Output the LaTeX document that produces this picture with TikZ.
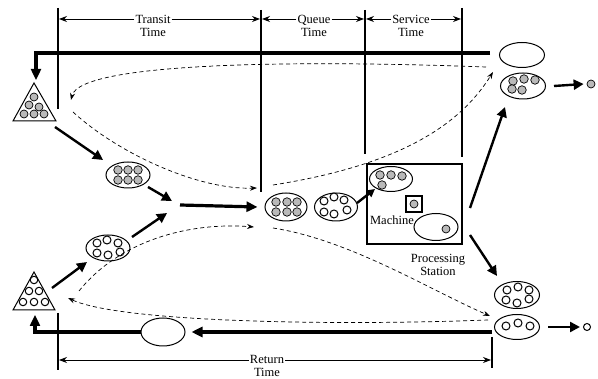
\documentclass[tikz,border=0pt]{standalone}
\usepackage{fontspec}
\setmainfont{Liberation Serif}
\usetikzlibrary{arrows.meta,shapes.geometric,calc}
\begin{document}
\begin{tikzpicture}[x=1pt,y=-1pt,
  lbl/.style={font=\fontsize{12.5}{13}\selectfont, align=center, inner sep=1pt},
  ell/.style={ellipse, draw, line width=1pt, minimum width=44pt, minimum height=26pt, inner sep=0pt},
  gb/.style={circle, draw, line width=0.7pt, fill=gray!55, inner sep=0pt, minimum size=8.5pt},
  wb/.style={circle, draw, line width=1pt, fill=white, inner sep=0pt, minimum size=8pt},
  tri/.style={draw, line width=1pt, fill=white},
  vline/.style={line width=1.4pt},
  heavy/.style={line width=3.2pt},
  thickarr/.style={line width=2.4pt, -{Triangle[length=10pt,width=10pt]}},
  dim/.style={line width=0.8pt, -{Stealth[length=8pt,width=6pt]}},
  dsh/.style={line width=0.7pt, dash pattern=on 4pt off 3pt, -{Stealth[length=7pt,width=5pt]}}
]
\useasboundingbox (0,0) rectangle (598,379);

% ---------- vertical time lines ----------
\draw[vline] (58,8) -- (58,109);
\draw[vline] (261,10) -- (261,192);
\draw[vline] (365,10) -- (365,154);
\draw[vline] (462,8) -- (462,157);
\draw[vline] (58,313) -- (58,370);
\draw[vline] (492,337) -- (492,368);

% ---------- top dimension labels ----------
\node[lbl] (transit) at (153,26) {Transit\\Time};
\node[lbl] (queue) at (314,26) {Queue\\Time};
\node[lbl] (service) at (411,26) {Service\\Time};
\node[lbl] (ret) at (267,366) {Return\\Time};
\coordinate (d1) at (59,19);
\coordinate (d2) at (260,19);
\coordinate (d3) at (262,19);
\coordinate (d4) at (364,19);
\coordinate (d5) at (366,19);
\coordinate (d6) at (461,19);
\coordinate (d7) at (59,360);
\coordinate (d8) at (491,360);
\draw[dim] (transit.west|-d1) -- (d1);
\draw[dim] (transit.east|-d2) -- (d2);
\draw[dim] (queue.west|-d3) -- (d3);
\draw[dim] (queue.east|-d4) -- (d4);
\draw[dim] (service.west|-d5) -- (d5);
\draw[dim] (service.east|-d6) -- (d6);
\draw[dim] (ret.west|-d7) -- (d7);
\draw[dim] (ret.east|-d8) -- (d8);

% ---------- triangles ----------
\draw[tri] (34,83) -- (13,121) -- (56,121) -- cycle;
\foreach \p in {(34,97),(29,105),(39,107),(24,114),(34,114),(44,114)}
  \node[gb, minimum size=8pt] at \p {};
\draw[tri] (34,272) -- (13,310) -- (55,310) -- cycle;
\foreach \p in {(34,280),(29,291),(39,291),(23,302),(34,302),(45,302)}
  \node[wb, minimum size=7.5pt] at \p {};

% ---------- heavy loops ----------
\coordinate (topR) at (490,53);
\coordinate (topL) at (36,53);
\coordinate (triAtop) at (36,80);
\coordinate (triAstem) at (36,70);
\draw[heavy] (topR) -- (topL) -- (triAstem);
\draw[line width=2.4pt, -{Triangle[length=11pt,width=10pt]}] (36,68) -- (triAtop);

\node[ell, minimum height=28pt] (empB) at (163,332) {};
\coordinate (botR) at (492,332);
\coordinate (botL) at (35,332);
\coordinate (triBbot) at (35,315);
\coordinate (triBstem) at (35,325);
\draw[heavy, -{Triangle[length=11pt,width=10pt]}] (botR) -- ([xshift=6pt]empB.east);
\draw[heavy] (empB.west) -- (botL) -- (triBstem);
\draw[line width=2.4pt, -{Triangle[length=11pt,width=10pt]}] (35,327) -- (triBbot);

% ---------- left ellipses ----------
\node[ell] (gL) at (128,175) {};
\foreach \p in {(118,170),(128,170),(138,170),(118,180),(128,180),(138,180)}
  \node[gb] at \p {};
\node[ell] (wL) at (108,248) {};
\foreach \p in {(97,243),(107,240),(118,243),(97,253),(108,255),(120,252)}
  \node[wb] at \p {};

% ---------- queue ----------
\node[ell, minimum height=28pt, minimum width=42pt] (gQ) at (286,207) {};
\foreach \p in {(276,202),(287,202),(297,202),(276,212),(287,212),(297,212)}
  \node[gb] at \p {};
\node[ell, minimum height=28pt, minimum width=43pt] (wQ) at (336,207) {};
\foreach \p in {(324,201),(334,197),(344,200),(324,212),(334,214),(347,210)}
  \node[wb] at \p {};

% ---------- processing station ----------
\node[draw, line width=2.2pt, minimum width=95pt, minimum height=80pt, inner sep=0pt] (ps) at (414.5,204) {};
\node[ell, minimum width=43pt, minimum height=25pt] (psIn) at (391,179) {};
\foreach \p in {(380,175),(391,175),(402,176),(382,185)}
  \node[gb] at \p {};
\node[draw, line width=1.8pt, minimum size=16pt, inner sep=0pt] (mach) at (414,204) {};
\node[gb, minimum size=8pt] at (414,204) {};
\node[ell, minimum width=44pt, minimum height=27pt] (psOut) at (436,227) {};
\node[gb, minimum size=8pt] at (446,229) {};
\node[lbl, fill=white, inner sep=0pt] (machlbl) at (392,220) {Machine};
\node[lbl] (pslbl) at (438,265) {Processing\\Station};

% ---------- right ellipses ----------
\node[ell, minimum width=45pt, minimum height=25pt] (empT) at (522,55) {};
\node[ell, minimum width=45pt, minimum height=26pt] (gOut) at (523,86) {};
\foreach \p in {(513,81),(524,79),(535,80),(512,89),(522,90)}
  \node[gb] at \p {};
\node[ell, minimum width=45pt, minimum height=27pt] (wAll) at (517,295) {};
\foreach \p in {(507,290),(518,287),(529,290),(506,300),(517,303),(529,299)}
  \node[wb] at \p {};
\node[ell, minimum width=45pt, minimum height=25pt] (wOut) at (517,327) {};
\foreach \p in {(506,326),(518,323),(530,326)}
  \node[wb] at \p {};
\node[gb, minimum size=8pt] (gDot) at (591,84) {};
\node[wb, minimum size=7pt] (wDot) at (587,327) {};

% ---------- flow arrows ----------
\coordinate (merge) at (180,205);
\draw[thickarr] (55,127) -- (103,160);
\draw[thickarr] (148,187) -- (172,201);
\draw[thickarr] (52,288) -- (87,262);
\draw[thickarr] (132,237) -- (167,213);
\draw[heavy, -{Triangle[length=11pt,width=10pt]}] (merge) -- ([xshift=-7pt]gQ.west);
\draw[line width=2.4pt, -{Triangle[length=8pt,width=8pt]}] (357,203) -- (375,189);
\draw[thickarr] (470,208) -- (505,107);
\draw[thickarr] (470,235) -- (497,276);
\draw[line width=2.4pt, -{Triangle[length=10pt,width=10pt]}] ($(gOut.east)+(8,0)$) -- ($(gDot.west)+(-3,0)$);
\draw[line width=2.4pt, -{Triangle[length=10pt,width=10pt]}] ($(wOut.east)+(8,0)$) -- ($(wDot.west)+(-3,0)$);

% ---------- dashed cycle paths ----------
\draw[dsh] (486,67) .. controls (300,60) and (80,62) .. (71,100);
\draw[dsh] (73,112) .. controls (120,155) and (200,190) .. (257,188);
\draw[dsh] (273,185) .. controls (400,165) and (460,125) .. (493,72);
\draw[dsh] (79,291) .. controls (120,240) and (190,222) .. (254,227);
\draw[dsh] (273,228) .. controls (350,240) and (430,290) .. (490,316);
\draw[dsh] (488,320) .. controls (330,326) and (120,322) .. (68,298);
\end{tikzpicture}
\end{document}
